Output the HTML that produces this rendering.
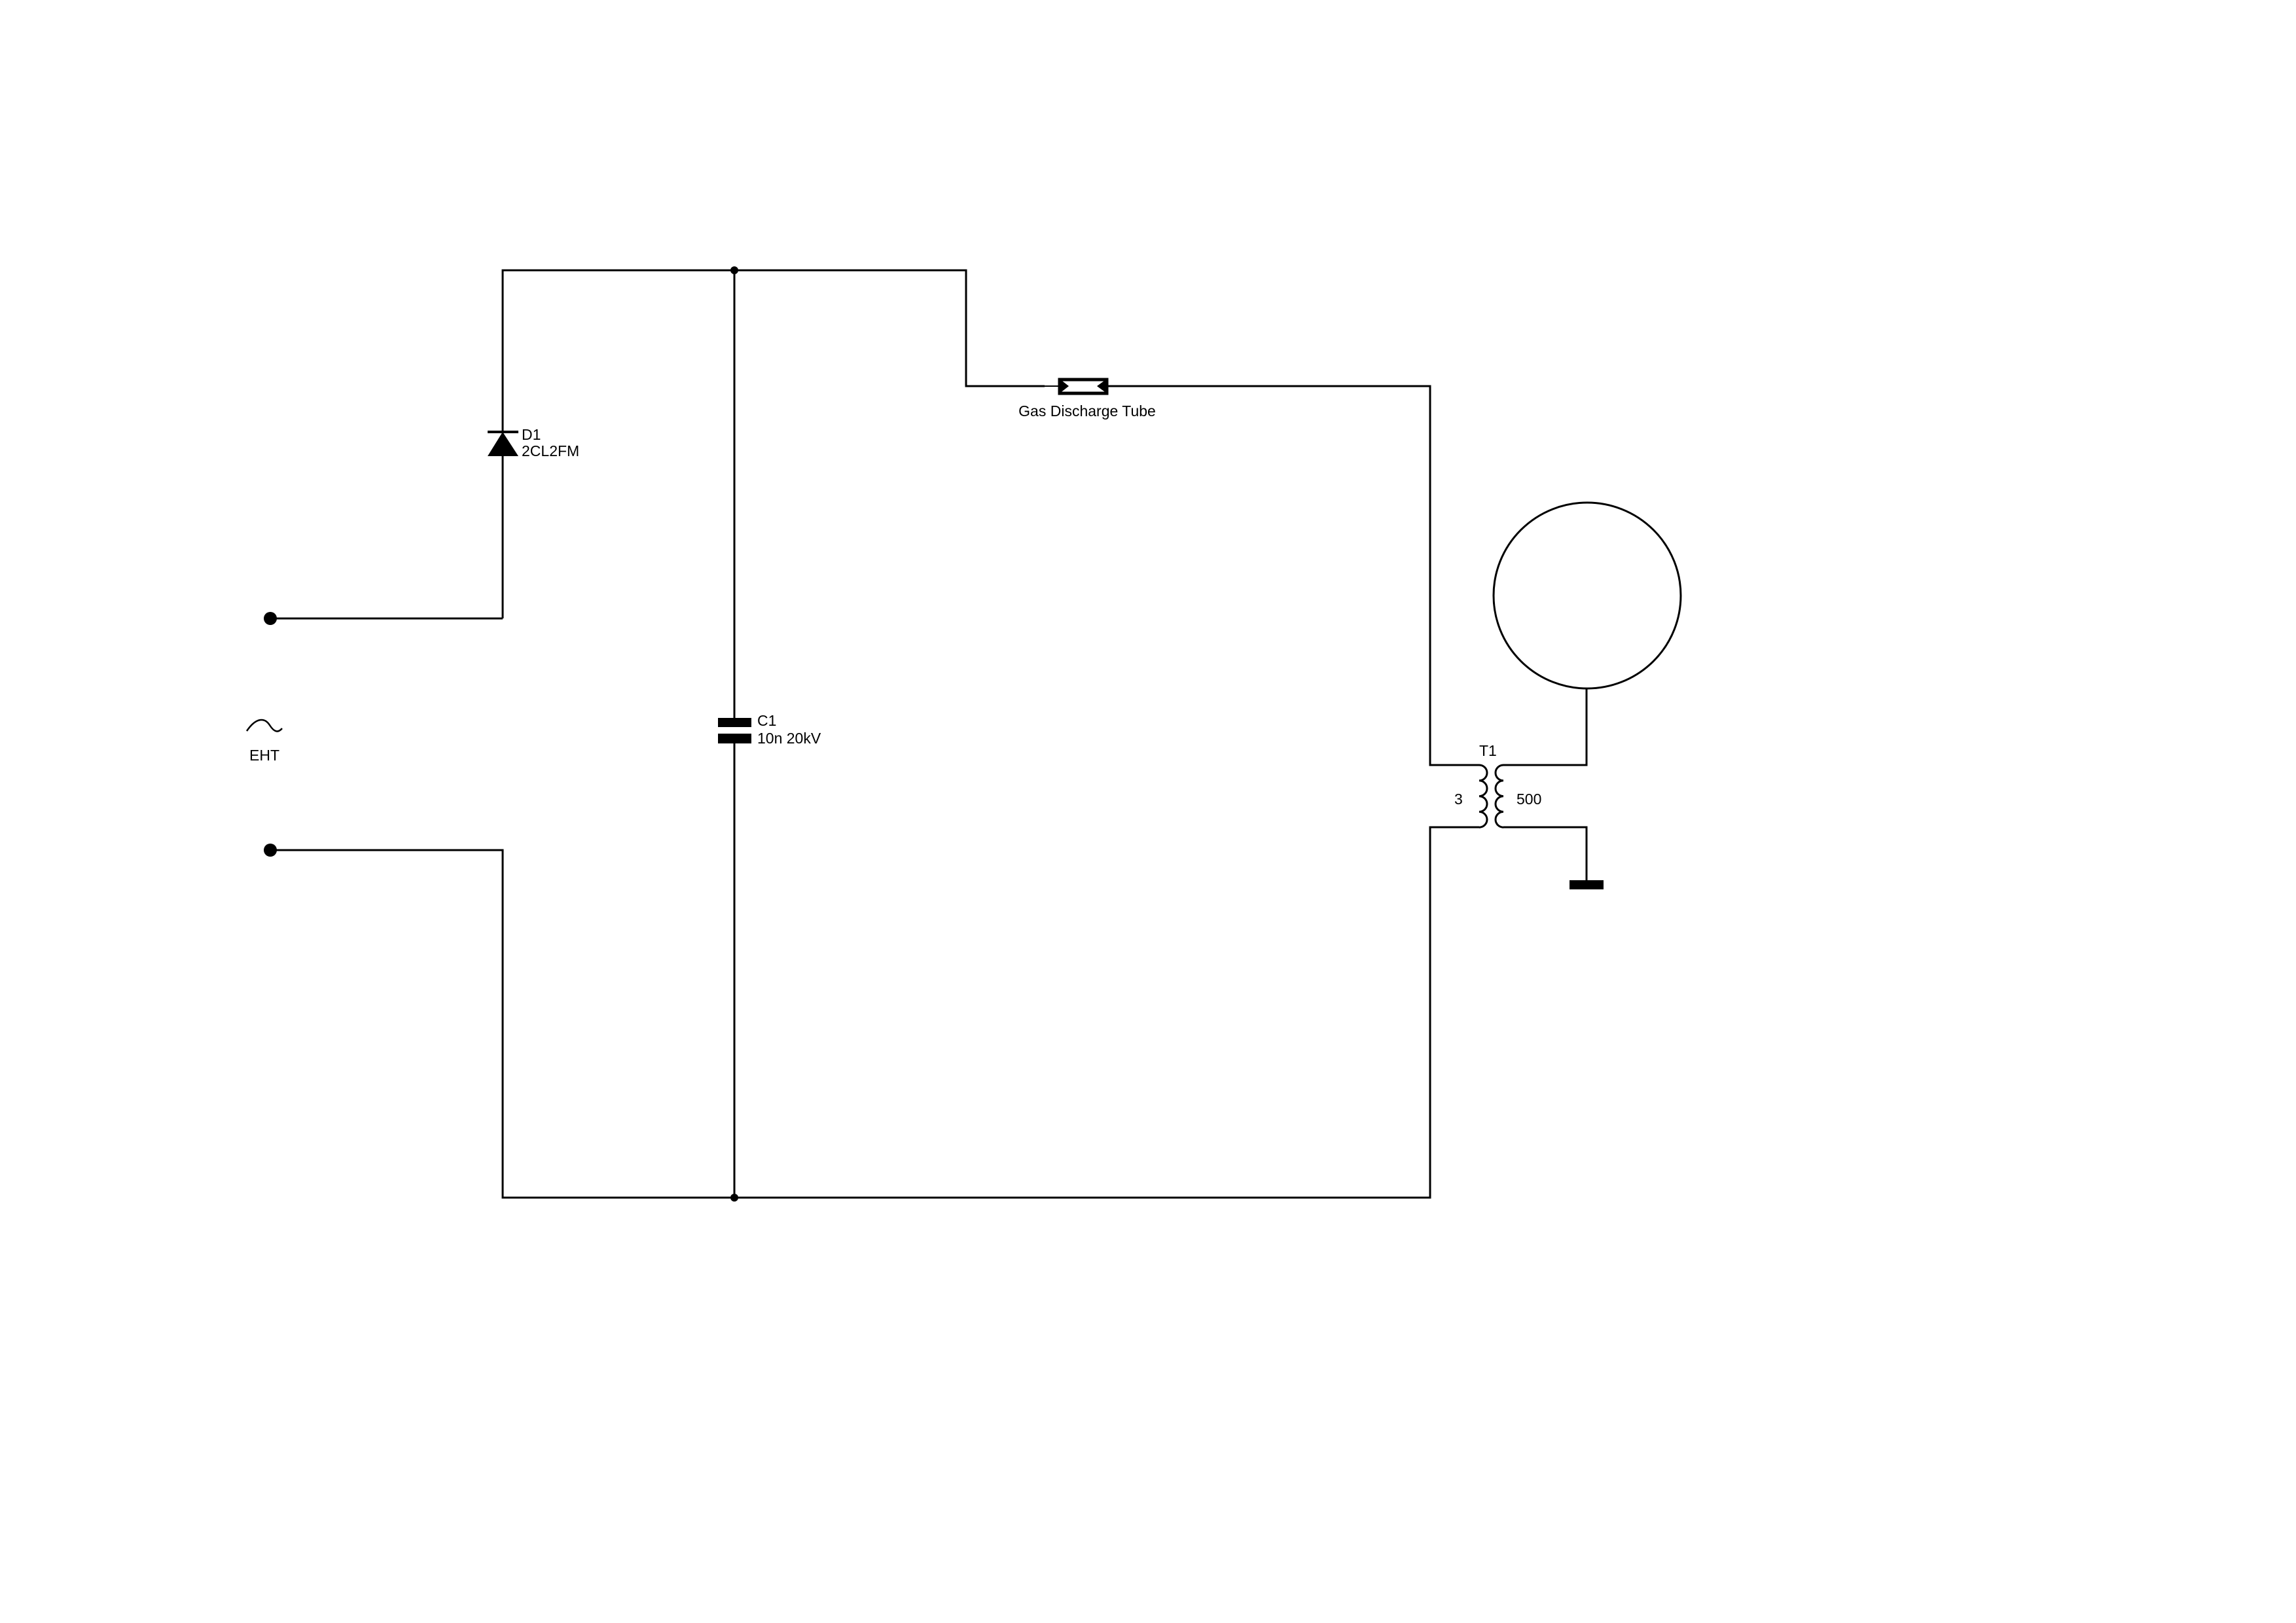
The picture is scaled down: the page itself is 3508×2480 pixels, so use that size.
<!DOCTYPE html>
<html><head><meta charset="utf-8"><style>html,body{margin:0;padding:0;background:#fff}svg{display:block}text{font-family:"Liberation Sans",sans-serif;font-size:23px;fill:#000}</style></head>
<body>
<svg width="3508" height="2480" viewBox="0 0 3508 2480" xmlns="http://www.w3.org/2000/svg">
<g stroke="#000" stroke-width="3" fill="none">
<!-- top wire -->
<polyline points="768,945 768,413 1476,413 1476,590 1596,590"/>
<line x1="1596" y1="590" x2="1617" y2="590" stroke-width="2"/>
<polyline points="1693,590 2185,590 2185,1169 2260,1169"/>
<line x1="413" y1="945" x2="768" y2="945"/>
<polyline points="413,1299 768,1299 768,1830 2185,1830 2185,1264 2260,1264"/>
<line x1="1122" y1="413" x2="1122" y2="1830"/>
<!-- secondary -->
<polyline points="2297,1169 2424,1169 2424,1051"/>
<polyline points="2297,1264 2424,1264 2424,1347"/>
<ellipse cx="2425" cy="910" rx="143" ry="142"/>
<!-- coils -->
<path d="M2260,1169 a12,11.9 0 0 1 0,23.8 a12,11.9 0 0 1 0,23.8 a12,11.9 0 0 1 0,23.8 a12,11.9 0 0 1 0,23.8"/>
<path d="M2297,1169 a12,11.9 0 0 0 0,23.8 a12,11.9 0 0 0 0,23.8 a12,11.9 0 0 0 0,23.8 a12,11.9 0 0 0 0,23.8"/>
<!-- tilde -->
<path d="M377,1117 C392,1095 405,1097 412,1108 C419,1119 425,1120 431,1113" stroke-width="2.5"/>
<!-- tube -->
<rect x="1619" y="580" width="72" height="21" stroke-width="5"/>
</g>
<polygon points="1619,579 1633,590 1619,601" fill="#000"/>
<polygon points="1691,579 1676,590 1691,601" fill="#000"/>
<!-- diode -->
<polygon points="745,697 792,697 768,660" fill="#000"/>
<rect x="745" y="658" width="47" height="4" fill="#000"/>
<!-- cap -->
<rect x="1097" y="1097" width="51" height="14" fill="#000"/>
<rect x="1097" y="1121" width="51" height="15" fill="#000"/>
<rect x="1112" y="1111" width="20" height="10" fill="#fff"/>
<!-- ground -->
<rect x="2398" y="1345" width="52" height="14" fill="#000"/>
<!-- dots -->
<circle cx="413" cy="945" r="10" fill="#000"/>
<circle cx="413" cy="1299" r="10" fill="#000"/>
<circle cx="1122" cy="413" r="6" fill="#000"/>
<circle cx="1122" cy="1830" r="6" fill="#000"/>
<!-- labels -->
<text x="797" y="672">D1</text>
<text x="797" y="697">2CL2FM</text>
<text x="1157" y="1109">C1</text>
<text x="1157" y="1136">10n 20kV</text>
<text x="1661" y="636" text-anchor="middle">Gas Discharge Tube</text>
<text x="381" y="1162">EHT</text>
<text x="2260" y="1155">T1</text>
<text x="2222" y="1229">3</text>
<text x="2317" y="1229">500</text>
</svg>
</body></html>
